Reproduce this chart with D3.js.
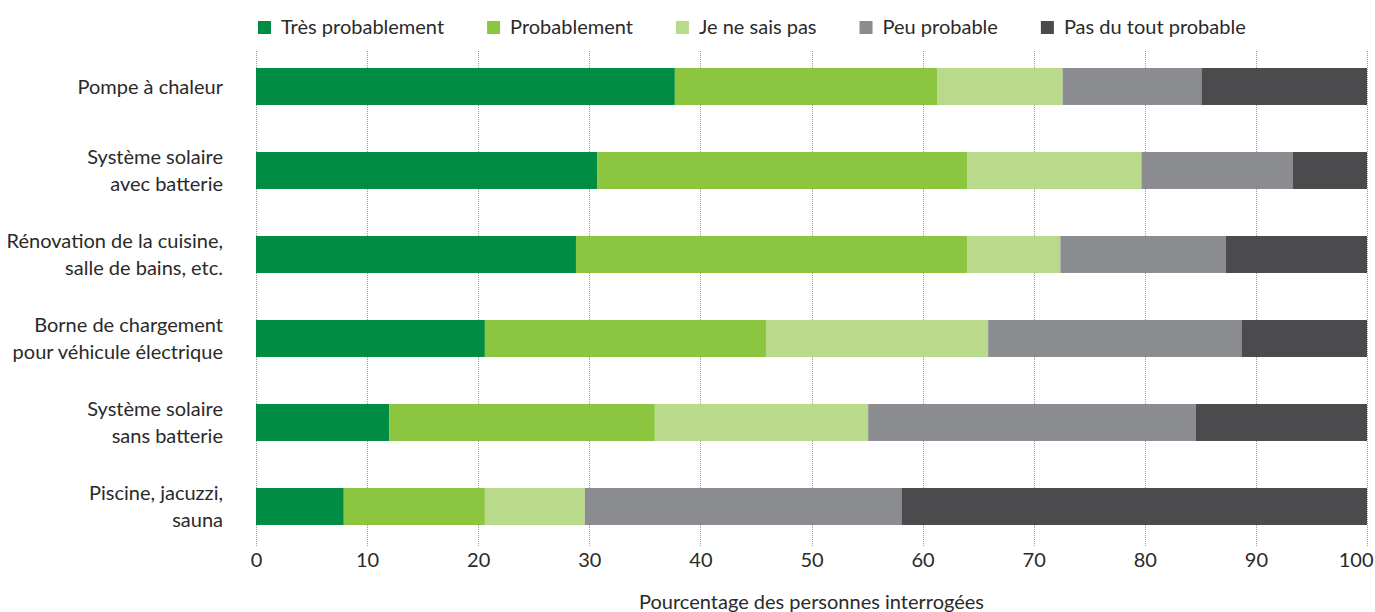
<!DOCTYPE html>
<html>
<head>
<meta charset="utf-8">
<script src="https://cdn.jsdelivr.net/npm/d3@7"></script>
<style>
  body { margin: 0; background: #fff; }
  text { font-family: Lato, "Open Sans", sans-serif; fill: #2b2a29; }
</style>
</head>
<body>
<div id="chart"></div>
<script>
// categories (top to bottom), line breaks kept as in the figure
const categories = [
    ["Pompe à chaleur"],
    ["Système solaire", "avec batterie"],
    ["Rénovation de la cuisine,", "salle de bains, etc."],
    ["Borne de chargement", "pour véhicule électrique"],
    ["Système solaire", "sans batterie"],
    ["Piscine, jacuzzi,", "sauna"]
];

const seriesNames = ["Très probablement", "Probablement", "Je ne sais pas", "Peu probable", "Pas du tout probable"];

// one array per answer, in category order (percent)
const tresProbablement = [37.7, 30.7, 28.8, 20.6, 12.0, 7.9];
const probablement     = [23.6, 33.3, 35.2, 25.3, 23.9, 12.7];
const neSaisPas        = [11.3, 15.7, 8.4, 20.0, 19.2, 9.0];
const peuProbable      = [12.5, 13.6, 14.9, 22.8, 29.5, 28.5];
const pasDuTout        = [14.9, 6.7, 12.7, 11.3, 15.4, 41.9];

const xTicks = [0, 10, 20, 30, 40, 50, 60, 70, 80, 90, 100];

const colors = ["#008d43", "#8cc540", "#b9da8a", "#8b8c8f", "#4b4b4d"];

let width = 1375,
    height = 612;

let svg = d3.select("#chart")
    .append("svg")
    .attr("width", width)
    .attr("height", height);

let keys = categories.map(function (d) { return d.join(" "); });
let series = [tresProbablement, probablement, neSaisPas, peuProbable, pasDuTout];

// build rows for the stack
let rows = keys.map(function (k, i) {
    let r = { key: k };
    seriesNames.forEach(function (s, j) { r[s] = series[j][i]; });
    return r;
});
let stacked = d3.stack().keys(seriesNames)(rows);

let x = d3.scaleLinear()
    .domain([0, 100])
    .range([256, 1367]);

let y = d3.scaleBand()
    .domain(keys)
    .range([44.5, 548.5])
    .paddingInner(0.56)
    .paddingOuter(0.28);

// dotted vertical grid lines
svg.append("g")
    .selectAll("line")
    .data(xTicks)
    .enter()
    .append("line")
    .attr("x1", function (d) { return Math.round(x(d)) + 0.5; })
    .attr("x2", function (d) { return Math.round(x(d)) + 0.5; })
    .attr("y1", 51)
    .attr("y2", 546)
    .style("stroke", "#9a9a9a")
    .style("stroke-width", 1)
    .style("stroke-dasharray", "1,1");

// stacked bars
svg.append("g")
    .selectAll("g")
    .data(stacked)
    .enter()
    .append("g")
    .style("fill", function (d, i) { return colors[i]; })
    .selectAll("rect")
    .data(function (d) { return d; })
    .enter()
    .append("rect")
    .attr("x", function (d) { return x(d[0]); })
    .attr("width", function (d) { return x(d[1]) - x(d[0]); })
    .attr("y", function (d) { return y(d.data.key); })
    .attr("height", y.bandwidth());

// category labels
let lineH = 26.5;
let labels = svg.append("g")
    .selectAll("text")
    .data(categories)
    .enter()
    .append("text")
    .attr("text-anchor", "end")
    .style("font-size", "20px")
    .attr("y", function (d, i) {
        return y(keys[i]) + y.bandwidth() / 2 - (d.length - 1) * lineH / 2;
    });

labels.selectAll("tspan")
    .data(function (d) { return d; })
    .enter()
    .append("tspan")
    .attr("x", 223)
    .attr("dy", function (d, i) { return i === 0 ? "0.35em" : lineH; })
    .text(function (d) { return d; });

// x axis tick labels
let xAxis = d3.axisBottom(x)
    .tickValues(xTicks)
    .tickSize(0)
    .tickPadding(0);

let ax = svg.append("g")
    .attr("transform", "translate(0,553)")
    .call(xAxis);
ax.select(".domain").remove();
ax.selectAll("text")
    .style("font-size", "20px")
    .style("font-family", "Lato, sans-serif")
    .style("fill", "#2b2a29");
// last label kept inside the page, as in the figure
ax.selectAll(".tick text")
    .filter(function (d) { return d === 100; })
    .attr("text-anchor", "end")
    .attr("x", 6);

svg.append("text")
    .attr("x", (x(0) + x(100)) / 2)
    .attr("y", 609)
    .attr("text-anchor", "middle")
    .style("font-size", "20px")
    .text("Pourcentage des personnes interrogées");

// legend
let legend = svg.append("g");
let lx = 258;
seriesNames.forEach(function (s, i) {
    legend.append("rect")
        .attr("x", lx)
        .attr("y", 21)
        .attr("width", 13)
        .attr("height", 13)
        .style("fill", colors[i]);
    let t = legend.append("text")
        .attr("x", lx + 23)
        .attr("y", 34)
        .style("font-size", "20px")
        .text(s);
    lx += 23 + t.node().getComputedTextLength() + 43;
});
</script>
</body>
</html>
